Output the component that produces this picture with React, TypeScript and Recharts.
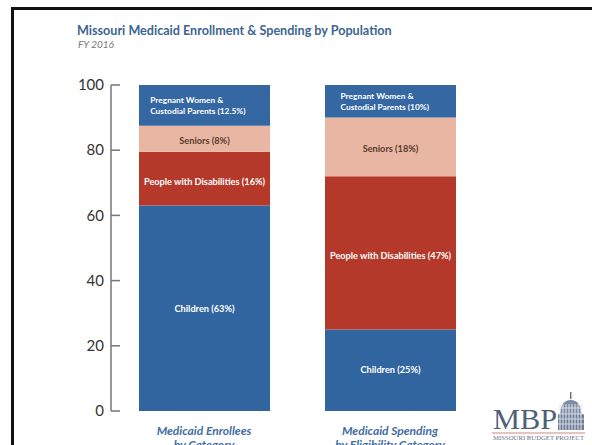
import { BarChart, Bar, XAxis, YAxis, LabelList } from 'recharts'

const categories = ['Medicaid Enrollees', 'Medicaid Spending']
const categorySub = ['by Category', 'by Eligibility Category']

const children = [63, 25]
const disabilities = [16.5, 47]
const seniors = [8, 18]
const pregnant = [12.5, 10]

const childrenLabels = ['Children (63%)', 'Children (25%)']
const disabilityLabels = ['People with Disabilities (16%)', 'People with Disabilities (47%)']
const seniorLabels = ['Seniors (8%)', 'Seniors (18%)']
const pregnantLabels = [
  ['Pregnant Women &', 'Custodial Parents (12.5%)'],
  ['Pregnant Women &', 'Custodial Parents (10%)'],
]

const yTicks = [0, 20, 40, 60, 80, 100]

const data = categories.map((c, i) => ({
  category: c,
  children: children[i],
  disabilities: disabilities[i],
  seniors: seniors[i],
  pregnant: pregnant[i],
}))

const FONT = 'Lato, "Noto Sans", sans-serif'
const SERIF = '"Liberation Serif", "DejaVu Serif", serif'
const BLUE = '#31659f'
const RED = '#b5392a'
const PINK = '#e8b6a2'

function segLabel(texts: string[], color: string, dy = 0) {
  return (p: any) => {
    const { x, y, width, height, index } = p
    return (
      <text x={x + width / 2} y={y + height / 2 + dy} dy="0.35em" textAnchor="middle"
        fontSize={9.2} fontWeight={700} fill={color} fontFamily={FONT}>
        {texts[index]}
      </text>
    )
  }
}

function pregnantLabel(p: any) {
  const { x, y, width, height, index } = p
  const lines = pregnantLabels[index]
  const longest = Math.max(...lines.map((l) => l.length))
  const left = x + (width - longest * 4.35) / 2
  const cy = y + height / 2
  return (
    <text fontSize={8.4} fontWeight={700} fill="#fff" fontFamily={FONT}>
      <tspan x={left} y={cy - 2}>{lines[0]}</tspan>
      <tspan x={left} y={cy + 9}>{lines[1]}</tspan>
    </text>
  )
}

function YTick(p: any) {
  const { x, y, payload } = p
  return (
    <g>
      <line x1={x} x2={x + 9} y1={y} y2={y} stroke="#777" strokeWidth={1.5} />
      <text x={x - 7} y={y} dy="0.35em" textAnchor="end" fontSize={15} fill="#333" fontFamily={FONT}>
        {payload.value}
      </text>
    </g>
  )
}

function EdgeTick(p: any) {
  const { x, y } = p
  return <line x1={x} x2={x} y1={y} y2={y - 8} stroke="#777" strokeWidth={1.5} />
}

function CatTick(p: any) {
  const { x, y, index } = p
  return (
    <text textAnchor="middle" fontSize={12} fontWeight={700} fontStyle="italic" fill="#3f6da3" fontFamily={FONT}>
      <tspan x={x} y={y + 24}>{categories[index]}</tspan>
      <tspan x={x} y={y + 38}>{categorySub[index]}</tspan>
    </text>
  )
}

function Logo() {
  const cols = [3, 6, 9, 12, 15, 18, 21, 24]
  return (
    <svg width={100} height={55} style={{ position: 'absolute', left: 490, top: 390 }}>
      <text x={3} y={39} fontFamily={SERIF} fontSize={29} fill="#4f5f78" textLength={64} lengthAdjust="spacingAndGlyphs">MBP</text>
      <g transform="translate(67,2)">
        <rect x={13} y={0} width={1.5} height={7} fill="#6a7690" />
        <path d="M3 22 Q4 8 13.75 8 Q23.5 8 24.5 22 Z" fill="#7c8aa4" />
        <rect x={1} y={22} width={26} height={16} fill="#6d7b96" />
        {cols.map((gx) => (
          <line key={gx} x1={gx} x2={gx} y1={12} y2={38} stroke="#e4e8ef" strokeWidth={1} />
        ))}
        {[16, 22, 27, 32].map((gy) => (
          <line key={gy} x1={1} x2={27} y1={gy} y2={gy} stroke="#e4e8ef" strokeWidth={0.8} />
        ))}
      </g>
      <line x1={2} x2={95} y1={43} y2={43} stroke="#c98a7a" strokeWidth={1} />
      <text x={3} y={49.5} fontFamily={SERIF} fontSize={6} fill="#6b7488" textLength={91} lengthAdjust="spacingAndGlyphs">MISSOURI BUDGET PROJECT</text>
    </svg>
  )
}

export default function App() {
  return (
    <div style={{ position: 'absolute', left: 0, top: 0, width: 592, height: 445, background: '#fff', overflow: 'hidden' }}>
      <div style={{ position: 'absolute', left: 11, top: 7, width: 600, height: 460, borderTop: '3px solid #111', borderLeft: '3px solid #111' }} />
      <div style={{ position: 'absolute', left: 77, top: 23, fontFamily: FONT, fontWeight: 700, fontSize: 12.6, color: '#3d6591', whiteSpace: 'nowrap' }}>
        Missouri Medicaid Enrollment &amp; Spending by Population
      </div>
      <div style={{ position: 'absolute', left: 78, top: 38, fontFamily: FONT, fontStyle: 'italic', fontSize: 10, color: '#777' }}>
        FY 2016
      </div>
      <div style={{ position: 'absolute', left: 0, top: 0 }}>
        <BarChart width={592} height={445} data={data} margin={{ top: 85, right: 116, bottom: 0, left: 71 }} barSize={131}>
          <XAxis xAxisId="edge" type="number" domain={[0, 2]} ticks={[0, 1, 2]} allowDataOverflow
            height={0} tickSize={0} tickMargin={0} tick={EdgeTick} axisLine={{ stroke: '#777', strokeWidth: 1.5 }} />
          <XAxis xAxisId="cat" dataKey="category" height={34} tickSize={0} tickMargin={0}
            padding={{ left: 0, right: -7 }}
            axisLine={false} tickLine={false} tick={CatTick} interval={0} />
          <YAxis domain={[0, 100]} ticks={yTicks} width={40} tickSize={0} tickMargin={0}
            tick={YTick} axisLine={{ stroke: '#777', strokeWidth: 1.5 }} tickLine={false} />
          <Bar xAxisId="cat" dataKey="children" stackId="a" fill={BLUE} isAnimationActive={false}>
            <LabelList dataKey="children" content={segLabel(childrenLabels, '#fff')} />
          </Bar>
          <Bar xAxisId="cat" dataKey="disabilities" stackId="a" fill={RED} isAnimationActive={false}>
            <LabelList dataKey="disabilities" content={segLabel(disabilityLabels, '#fff', 3)} />
          </Bar>
          <Bar xAxisId="cat" dataKey="seniors" stackId="a" fill={PINK} isAnimationActive={false}>
            <LabelList dataKey="seniors" content={segLabel(seniorLabels, '#5a3a2e', 2)} />
          </Bar>
          <Bar xAxisId="cat" dataKey="pregnant" stackId="a" fill="#3567a3" isAnimationActive={false}>
            <LabelList dataKey="pregnant" content={pregnantLabel} />
          </Bar>
        </BarChart>
      </div>
      <Logo />
    </div>
  )
}
